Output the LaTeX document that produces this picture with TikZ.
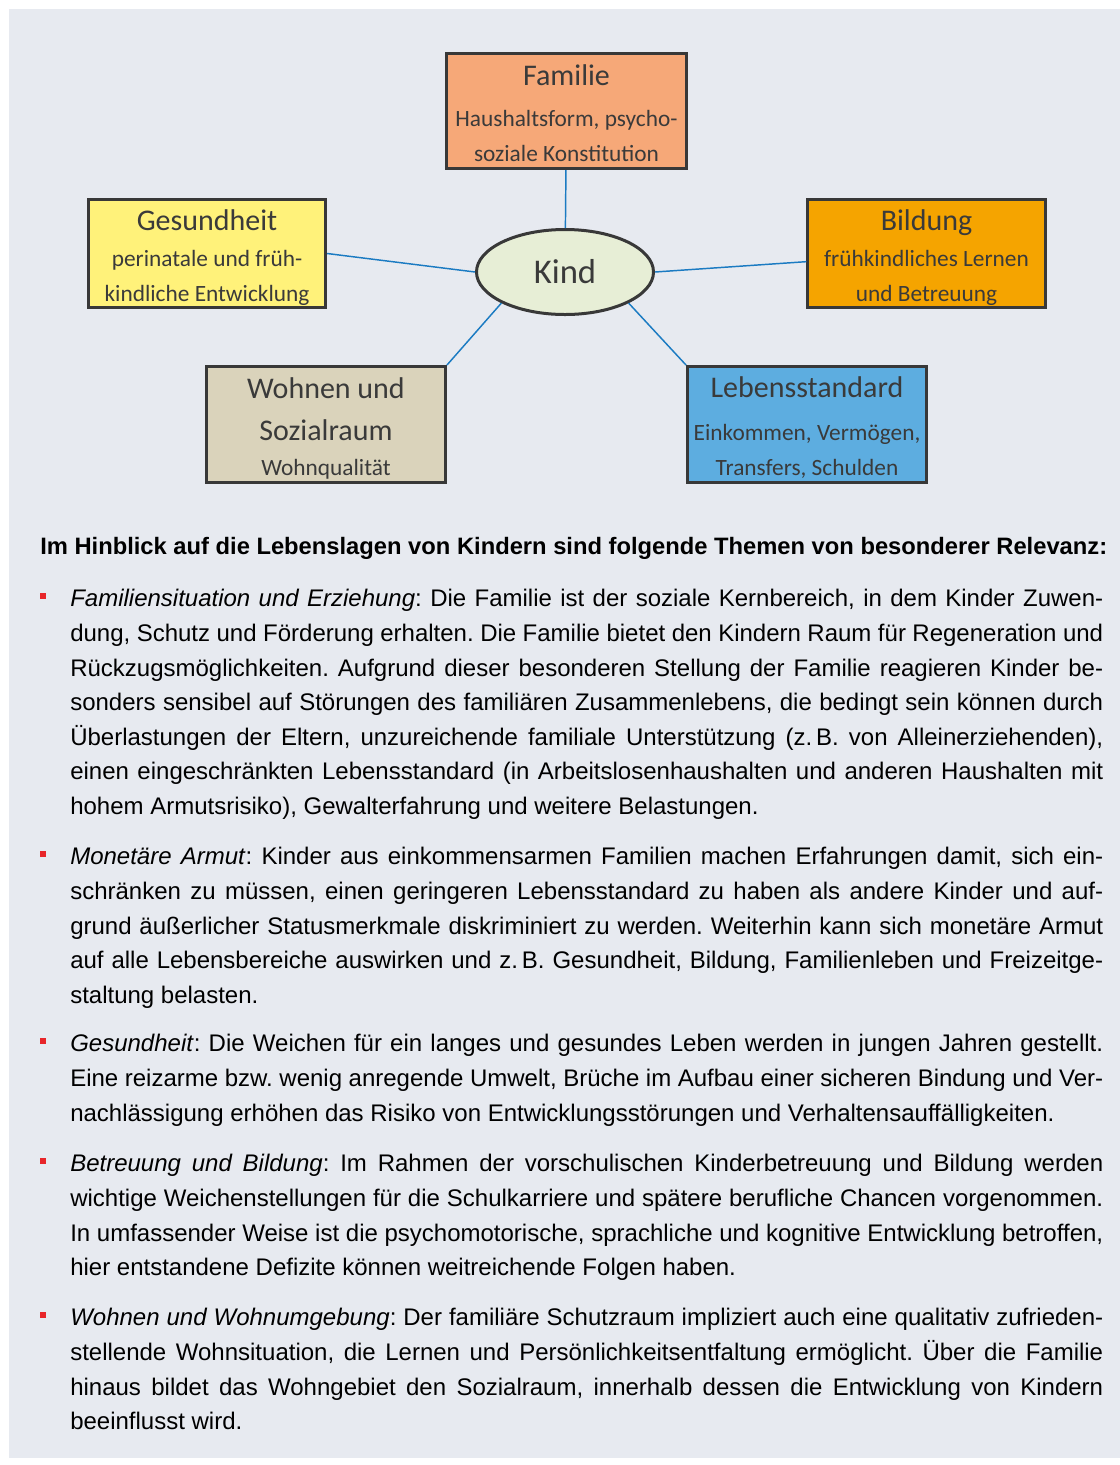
\documentclass[tikz,border=0pt]{standalone}
\usepackage{fontspec}
\setmainfont{Liberation Sans}
\newfontfamily\diafont{Carlito}
\usepackage{tikz}
\usetikzlibrary{shapes.geometric}

\definecolor{pagebg}{HTML}{E7EAF0}
\definecolor{boxline}{HTML}{383838}
\definecolor{boxtext}{HTML}{3A3A3A}
\definecolor{linkblue}{HTML}{1B7BC2}
\definecolor{bulletred}{HTML}{E8262A}
\definecolor{famfill}{HTML}{F6A878}
\definecolor{gesfill}{HTML}{FFF27A}
\definecolor{bilfill}{HTML}{F5A400}
\definecolor{wohfill}{HTML}{DAD3BB}
\definecolor{lebfill}{HTML}{5DADE0}
\definecolor{kindfill}{HTML}{E7EED6}

\newcommand{\titlefont}{\fontsize{22.5}{26.25}\selectfont}
\newcommand{\bodyfont}{\fontsize{18}{25.9}\selectfont\frenchspacing}
% taller first line, to set the box text lower
\newcommand{\lowerby}[1]{\rule{0pt}{\dimexpr\fontcharht\font`\d+#1\relax}}

\tikzstyle{topic}=[rectangle,draw=boxline,line width=2.25pt,align=center,
  text=boxtext,font=\diafont\fontsize{17.5}{26.25}\selectfont,
  minimum width=178pt,minimum height=82pt,inner sep=0pt]
\tikzstyle{centre}=[ellipse,draw=boxline,line width=2.25pt,fill=kindfill,
  text=boxtext,font=\diafont\fontsize{26}{30}\selectfont,
  minimum width=132.75pt,minimum height=63.75pt,inner sep=0pt]
\tikzstyle{link}=[draw=linkblue,line width=1.1pt]
\tikzstyle{bullet}=[rectangle,fill=bulletred,minimum width=4.5pt,
  minimum height=4.5pt,inner sep=0pt]
\tikzstyle{item}=[anchor=north west,inner sep=0pt,text width=774.75pt,
  align=justify,font=\bodyfont]

\begin{document}
\begin{tikzpicture}[x=0.75pt,y=-0.75pt]
  \useasboundingbox (0,0) rectangle (1120,1465);
  \fill[pagebg] (9,9) rectangle (1120,1458);

  % diagram
  \node[centre] (kind) at (565,272) {Kind};
  \node[topic,fill=famfill,minimum height=86.25pt,minimum width=180pt] (fam) at (566.5,111)
    {{\titlefont\lowerby{3pt}Familie}\\[4.5pt]Haushaltsform, psycho-\\soziale Konstitution};
  \node[topic,fill=gesfill,minimum height=81pt] (ges) at (207,253.5)
    {{\titlefont\lowerby{6pt}Gesundheit}\\[0.5pt]perinatale und früh-\\kindliche Entwicklung};
  \node[topic,fill=bilfill,minimum height=81pt] (bil) at (926.5,253.5)
    {{\titlefont\lowerby{6pt}Bildung}\\[0.5pt]frühkindliches Lernen\\und Betreuung};
  \node[topic,fill=wohfill,minimum height=87pt,minimum width=179.25pt] (woh) at (326,424.5)
    {{\titlefont\lowerby{6pt}Wohnen und}\\[5.25pt]{\titlefont Sozialraum}\\[0pt]Wohnqualität};
  \node[topic,fill=lebfill,minimum height=87pt,minimum width=179.25pt] (leb) at (807,424.5)
    {{\titlefont\lowerby{5pt}Lebensstandard}\\[6pt]Einkommen, Vermögen,\\Transfers, Schulden};

  \draw[link] (fam) -- (kind);
  \draw[link] (ges.east) -- (kind.west);
  \draw[link] (bil) -- (kind.east);
  \draw[link] (woh.north east) -- (kind.south west);
  \draw[link] (leb.north west) -- (kind.south east);

  % text
  \node[anchor=west,inner sep=0pt,font=\fontsize{17.8}{25.9}\selectfont\bfseries] (head) at (40,548)
    {Im Hinblick auf die Lebenslagen von Kindern sind folgende Themen von besonderer Relevanz:};

  \node[bullet] (b1) at (43,596) {};
  \node[item] (it1) at (70,589.3) {\textit{Familiensituation und Erziehung}: Die Familie ist der soziale Kernbereich, in dem Kinder Zuwen-\linebreak
    dung, Schutz und Förderung erhalten. Die Familie bietet den Kindern Raum für Regeneration und\linebreak
    Rückzugsmöglichkeiten. Aufgrund dieser besonderen Stellung der Familie reagieren Kinder be-\linebreak
    sonders sensibel auf Störungen des familiären Zusammenlebens, die bedingt sein können durch\linebreak
    Überlastungen der Eltern, unzureichende familiale Unterstützung (z.\,B. von Alleinerziehenden),\linebreak
    einen eingeschränkten Lebensstandard (in Arbeitslosenhaushalten und anderen Haushalten mit\linebreak
    hohem Armutsrisiko), Gewalterfahrung und weitere Belastungen.};

  \node[bullet] (b2) at (43,854) {};
  \node[item] (it2) at (70,847.3) {\textit{Monetäre Armut}: Kinder aus einkommensarmen Familien machen Erfahrungen damit, sich ein-\linebreak
    schränken zu müssen, einen geringeren Lebensstandard zu haben als andere Kinder und auf-\linebreak
    grund äußerlicher Statusmerkmale diskriminiert zu werden. Weiterhin kann sich monetäre Armut\linebreak
    auf alle Lebensbereiche auswirken und z.\,B. Gesundheit, Bildung, Familienleben und Freizeitge-\linebreak
    staltung belasten.};

  \node[bullet] (b3) at (43,1041) {};
  \node[item] (it3) at (70,1034.3) {\textit{Gesundheit}: Die Weichen für ein langes und gesundes Leben werden in jungen Jahren gestellt.\linebreak
    Eine reizarme bzw. wenig anregende Umwelt, Brüche im Aufbau einer sicheren Bindung und Ver-\linebreak
    nachlässigung erhöhen das Risiko von Entwicklungsstörungen und Verhaltensauffälligkeiten.};

  \node[bullet] (b4) at (43,1161) {};
  \node[item] (it4) at (70,1154.3) {\textit{Betreuung und Bildung}: Im Rahmen der vorschulischen Kinderbetreuung und Bildung werden\linebreak
    wichtige Weichenstellungen für die Schulkarriere und spätere berufliche Chancen vorgenommen.\linebreak
    In umfassender Weise ist die psychomotorische, sprachliche und kognitive Entwicklung betroffen,\linebreak
    hier entstandene Defizite können weitreichende Folgen haben.};

  \node[bullet] (b5) at (43,1315) {};
  \node[item] (it5) at (70,1308.3) {\textit{Wohnen und Wohnumgebung}: Der familiäre Schutzraum impliziert auch eine qualitativ zufrieden-\linebreak
    stellende Wohnsituation, die Lernen und Persönlichkeitsentfaltung ermöglicht. Über die Familie\linebreak
    hinaus bildet das Wohngebiet den Sozialraum, innerhalb dessen die Entwicklung von Kindern\linebreak
    beeinflusst wird.};
\end{tikzpicture}
\end{document}
